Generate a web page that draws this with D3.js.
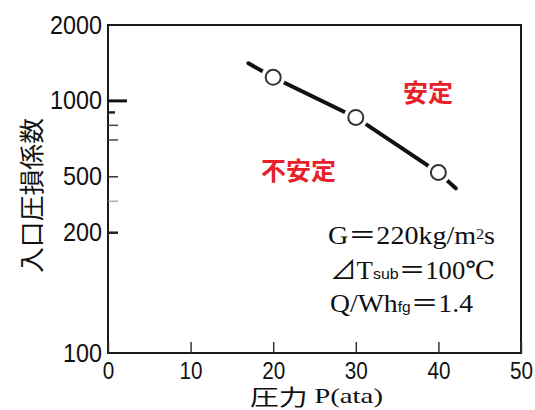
<!DOCTYPE html>
<html>
<head>
<meta charset="utf-8">
<script src="https://cdn.jsdelivr.net/npm/d3@7"></script>
<style>
  html, body { margin: 0; padding: 0; background: #fff; }
  svg { display: block; }
</style>
</head>
<body>
<svg id="chart" width="535" height="410"></svg>
<script>
// ---- data ----
const xTicks = [0, 10, 20, 30, 40, 50];
const yTicks = [100, 300, 500, 1000, 2000];
const yTickLabels = ["100", "200", "500", "1000", "2000"];
const yMinorTicks = [400, 700, 800, 900];
const pressure = [20, 30, 40];
const lossCoef = [1240, 860, 520];
const fitPressure = [17, 20, 30, 40, 42.1];
const fitLossCoef = [1410, 1240, 860, 520, 450];
const yLabel = "入口圧損係数";
const xLabel = ["圧力 ", "P(ata)"];
const stableLabel = "安定";
const unstableLabel = "不安定";

// ---- layout ----
const svg = d3.select("#chart");
const mLeft = 108, mRight = 521, mTop = 25, mBottom = 353;
const x = d3.scaleLinear().domain([0, 50]).range([mLeft, mRight]);
const y = d3.scaleLog().domain([100, 2000]).range([mBottom, mTop]);

const numFont = "'Liberation Sans', Arial, sans-serif";
const cjkFont = "'Noto Sans CJK JP', 'Noto Sans CJK SC', sans-serif";
const serifFont = "'Liberation Serif', 'DejaVu Serif', 'Noto Sans CJK JP', serif";

// frame
svg.append("rect")
  .attr("x", mLeft).attr("y", mTop)
  .attr("width", mRight - mLeft).attr("height", mBottom - mTop)
  .attr("fill", "none").attr("stroke", "#1a1a1a").attr("stroke-width", 2);

// x axis
const gx = svg.append("g")
  .attr("transform", `translate(0,${mBottom})`)
  .call(d3.axisBottom(x).tickValues(xTicks).tickSizeInner(-11).tickSizeOuter(0).tickPadding(9).tickFormat(d3.format("d")));
gx.select(".domain").remove();
gx.selectAll(".tick line").attr("stroke", "#333").attr("stroke-width", 1.5);
gx.selectAll(".tick text")
  .attr("font-family", numFont).attr("font-size", 24).attr("fill", "#111")
  .each(function () {
    const t = d3.select(this);
    t.attr("textLength", 11.5 * t.text().length).attr("lengthAdjust", "spacingAndGlyphs");
  });

// y axis labels
const gy = svg.append("g")
  .attr("transform", `translate(${mLeft},0)`)
  .call(d3.axisLeft(y).tickValues(yTicks).tickSize(0).tickPadding(6)
    .tickFormat(d => yTickLabels[yTicks.indexOf(d)]));
gy.select(".domain").remove();
gy.selectAll(".tick text")
  .attr("font-family", numFont).attr("font-size", 25).attr("fill", "#111")
  .each(function () {
    const t = d3.select(this);
    t.attr("textLength", 13 * t.text().length).attr("lengthAdjust", "spacingAndGlyphs");
  });

// inward y tick marks (styles separate from data)
const yTickStyle = {
  1000: { len: 19, w: 3, c: "#111" },
  900: { len: 7, w: 2.5, c: "#222" },
  800: { len: 10, w: 1.5, c: "#444" },
  700: { len: 10, w: 1.5, c: "#444" },
  500: { len: 10, w: 1.5, c: "#333" },
  400: { len: 10, w: 1.2, c: "#999" },
  300: { len: 10, w: 2.5, c: "#222" }
};
const inTicks = yTicks.concat(yMinorTicks).filter(v => yTickStyle[v]);
svg.append("g").selectAll("line").data(inTicks).join("line")
  .attr("x1", mLeft).attr("x2", v => mLeft + yTickStyle[v].len)
  .attr("y1", v => y(v)).attr("y2", v => y(v))
  .attr("stroke", v => yTickStyle[v].c).attr("stroke-width", v => yTickStyle[v].w);

// fit line
const linePts = fitPressure.map((p, i) => [p, fitLossCoef[i]]);
svg.append("path")
  .datum(linePts)
  .attr("d", d3.line().x(d => x(d[0])).y(d => y(d[1])))
  .attr("fill", "none").attr("stroke", "#111").attr("stroke-width", 4)
  .attr("stroke-linecap", "round");

// points with white halo
const pts = pressure.map((p, i) => [p, lossCoef[i]]);
svg.append("g").selectAll("circle").data(pts).join("circle")
  .attr("cx", d => x(d[0])).attr("cy", d => y(d[1])).attr("r", 12)
  .attr("fill", "#fff");
svg.append("g").selectAll("circle").data(pts).join("circle")
  .attr("cx", d => x(d[0])).attr("cy", d => y(d[1])).attr("r", 7.5)
  .attr("fill", "#fff").attr("stroke", "#333").attr("stroke-width", 2);

// region labels
svg.append("text").text(stableLabel)
  .attr("x", 428).attr("y", 91)
  .attr("text-anchor", "middle").attr("dominant-baseline", "central")
  .attr("font-family", cjkFont).attr("font-weight", "bold").attr("font-size", 25)
  .attr("fill", "#e8202a");
svg.append("text").text(unstableLabel)
  .attr("x", 298.5).attr("y", 168.5)
  .attr("text-anchor", "middle").attr("dominant-baseline", "central")
  .attr("font-family", cjkFont).attr("font-weight", "bold").attr("font-size", 25)
  .attr("fill", "#e8202a");

// annotation
const ann = svg.append("g").attr("font-family", serifFont).attr("fill", "#111");
const l1 = ann.append("text").attr("x", 328).attr("y", 244).attr("font-size", 25)
  .attr("textLength", 167).attr("lengthAdjust", "spacingAndGlyphs");
l1.append("tspan").text("G＝220kg/m");
l1.append("tspan").attr("font-size", 14).attr("dy", -5).text("2");
l1.append("tspan").attr("dy", 5).text("s");

const l2 = ann.append("text").attr("x", 330).attr("y", 279).attr("font-size", 25)
  .attr("textLength", 165).attr("lengthAdjust", "spacingAndGlyphs");
l2.append("tspan").text("⊿T");
l2.append("tspan").attr("font-size", 15).attr("font-family", numFont).text("sub");
l2.append("tspan").text("＝100℃");

const l3 = ann.append("text").attr("x", 330).attr("y", 312).attr("font-size", 25)
  .attr("textLength", 143).attr("lengthAdjust", "spacingAndGlyphs");
l3.append("tspan").text("Q/Wh");
l3.append("tspan").attr("font-size", 14).attr("font-family", numFont).text("fg");
l3.append("tspan").text("＝1.4");

// axis titles
svg.append("text").text(yLabel)
  .attr("transform", "translate(30,195.5) rotate(-90)")
  .attr("text-anchor", "middle").attr("dominant-baseline", "central")
  .attr("font-family", cjkFont).attr("font-size", 25).attr("fill", "#111")
  .attr("textLength", 155).attr("lengthAdjust", "spacingAndGlyphs");

const xt = svg.append("text")
  .attr("x", 250).attr("y", 395)
  .attr("dominant-baseline", "central")
  .attr("font-size", 22).attr("fill", "#111")
  .attr("textLength", 133).attr("lengthAdjust", "spacingAndGlyphs");
xt.append("tspan").attr("font-family", cjkFont).text(xLabel[0]);
xt.append("tspan").attr("font-family", serifFont).text(xLabel[1]);
</script>
</body>
</html>
